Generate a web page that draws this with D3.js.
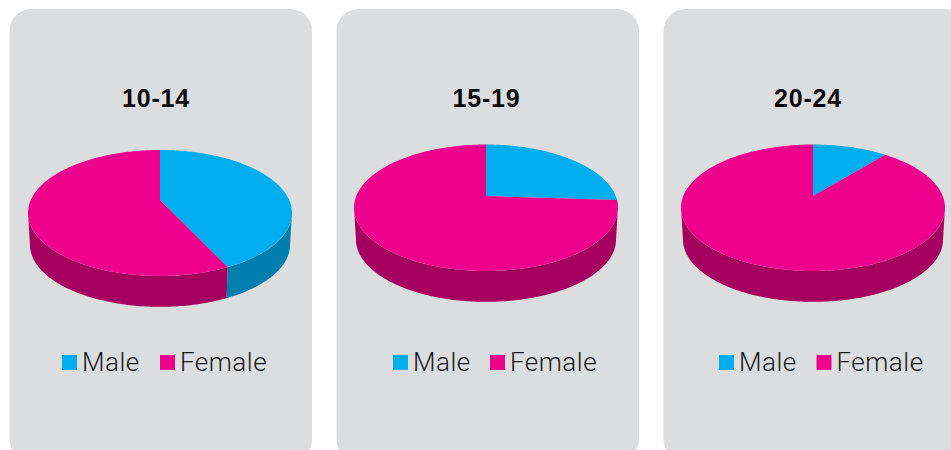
<!DOCTYPE html>
<html>
<head>
  <style>
    html, body { margin: 0; padding: 0; background: #fff; overflow: hidden; }
    text { font-family: "Liberation Sans", sans-serif; }
    .title { font-size: 25px; font-weight: 700; letter-spacing: 0.8px; fill: #0a0a0a; }
    .legend { font-family: Roboto, sans-serif; font-size: 26px; font-weight: 300; letter-spacing: 0.5px; fill: #1a1a1a; }
  </style>
</head>
<body>
  <svg id="chart" width="951" height="450"></svg>
  <script src="https://d3js.org/d3.v7.min.js"></script>
  <script>
    const ageGroups = ['10-14', '15-19', '20-24']
    const seriesNames = ['Male', 'Female']
    const maleShare = [43, 26, 11]
    const femaleShare = [57, 74, 89]

    const colors = ['#00aeef', '#ec008c']
    const wallColors = ['#007fae', '#a5005f']

    // hand measured per panel, the pies are not placed evenly in the panels
    const pieCx = [160, 486, 813]
    const pieCy = [200, 196, 196]
    const farEdge = [50, 51.5, 51.5]
    const nearEdge = [76, 75, 75]
    const titleX = [156, 486.5, 808]
    const legendX = [[62, 160], [393, 490], [719, 816.5]]

    const radiusX = 132
    const depth = 32
    const panelWidth = 302.5

    const svg = d3.select('#chart')
    const panelX = d3.scalePoint().domain(ageGroups).range([9.5, 663.5])
    const pie = d3.pie().sort(null).value(d => d)
    const line = d3.line()

    // perspective view of a flat disc, angle runs clockwise from the top
    function projector(i, shrink, drop) {
      const far = farEdge[i], near = nearEdge[i]
      const k = (near - far) / (near + far)
      const a = far * (1 + k)
      const r = radiusX * Math.sqrt(1 - k * k)
      return t => {
        const u = Math.sin(t), v = Math.cos(t), w = 1 + k * v
        return [pieCx[i] + shrink * r * u / w, pieCy[i] + drop - shrink * a * v / w]
      }
    }

    function arcPoints(project, t0, t1) {
      const n = Math.max(2, Math.ceil((t1 - t0) * 60))
      return d3.range(n + 1).map(j => project(t0 + (t1 - t0) * j / n))
    }

    ageGroups.forEach((group, i) => {
      const g = svg.append('g')
      g.append('rect')
        .attr('x', panelX(group)).attr('y', 9)
        .attr('width', panelWidth).attr('height', 452)
        .attr('rx', 22).attr('fill', '#dcdddf')

      g.append('text').attr('class', 'title')
        .attr('x', titleX[i]).attr('y', 107)
        .attr('text-anchor', 'middle').text(group)

      const top = projector(i, 1, 0)
      const bottom = projector(i, 0.985, depth)
      const slices = pie([maleShare[i], femaleShare[i]])

      // the wall only shows between the two outermost points of the disc
      const k = (nearEdge[i] - farEdge[i]) / (nearEdge[i] + farEdge[i])
      const wallFrom = Math.atan2(Math.sqrt(1 - k * k), -k)
      const wallTo = 2 * Math.PI - wallFrom

      slices.forEach((s, j) => {
        const t0 = Math.max(s.startAngle, wallFrom), t1 = Math.min(s.endAngle, wallTo)
        if (t1 <= t0) return
        const pts = arcPoints(top, t0, t1).concat(arcPoints(bottom, t0, t1).reverse())
        g.append('path')
          .attr('d', line(pts) + 'Z')
          .attr('fill', wallColors[j])
      })

      slices.forEach((s, j) => {
        const pts = [[pieCx[i], pieCy[i]]].concat(arcPoints(top, s.startAngle, s.endAngle))
        g.append('path')
          .attr('d', line(pts) + 'Z')
          .attr('fill', colors[j])
      })

      seriesNames.forEach((name, j) => {
        g.append('rect')
          .attr('x', legendX[i][j]).attr('y', 355)
          .attr('width', 15).attr('height', 15)
          .attr('fill', colors[j])
        g.append('text').attr('class', 'legend')
          .attr('x', legendX[i][j] + 20).attr('y', 371)
          .text(name)
      })
    })
  </script>
</body>
</html>
